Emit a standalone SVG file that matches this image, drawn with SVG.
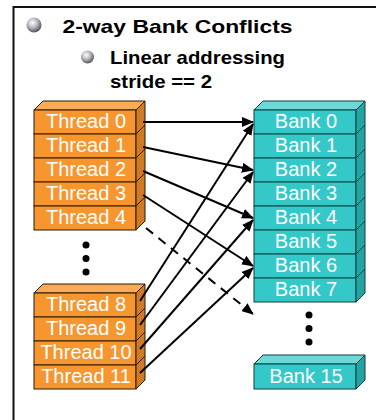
<svg xmlns="http://www.w3.org/2000/svg" width="376" height="420" viewBox="0 0 376 420">
<style>
.h{font-family:"Liberation Sans",Arial,sans-serif;font-weight:bold;fill:#000;font-size:19px}
.lb{font-family:"Liberation Sans",Arial,sans-serif;fill:#fff;font-size:20px;text-anchor:middle}
.of{fill:#F7962E;stroke:#2a1a08;stroke-width:1}
.ot{fill:#F9AC55;stroke:#2a1a08;stroke-width:1}
.os{fill:#D07A26;stroke:#2a1a08;stroke-width:1}
.tf{fill:#35C8C8;stroke:#133f3f;stroke-width:1}
.tt{fill:#6CD8D8;stroke:#133f3f;stroke-width:1}
.ts{fill:#24A3A3;stroke:#133f3f;stroke-width:1}
.ar{stroke:#000;stroke-width:2;fill:none;marker-end:url(#ah)}
.dot{fill:#000}
</style>
<defs>
<marker id="ah" viewBox="0 0 12 10" refX="11" refY="5" markerWidth="6" markerHeight="5" orient="auto" markerUnits="strokeWidth">
<path d="M0,0 L12,5 L0,10 Z" fill="#000"/>
</marker>
<radialGradient id="ball" cx="0.4" cy="0.35" r="0.65">
<stop offset="0" stop-color="#ffffff"/>
<stop offset="0.5" stop-color="#b8b8c0"/>
<stop offset="1" stop-color="#55555c"/>
</radialGradient>
</defs>
<rect width="376" height="420" fill="#fff"/>
<path d="M13.5,420 V7 H376" fill="none" stroke="#111" stroke-width="2"/>
<g id="title">
<circle cx="34" cy="25" r="7.5" fill="url(#ball)"/>
<text class="h" x="62.5" y="33" textLength="230" lengthAdjust="spacingAndGlyphs">2-way Bank Conflicts</text>
<circle cx="87.5" cy="57" r="6.5" fill="url(#ball)"/>
<text class="h" x="110" y="64" textLength="175" lengthAdjust="spacingAndGlyphs">Linear addressing</text>
<text class="h" x="110" y="88" textLength="102" lengthAdjust="spacingAndGlyphs">stride == 2</text>
</g>
<g id="threads-top">
<path class="ot" d="M34,110 L43,101 L145,101 L136,110 Z"/>
<g id="thread0"><rect class="of" x="34" y="110" width="102" height="24"/><path class="os" d="M136,110 L145,101 L145,125 L136,134 Z"/><text class="lb" x="86" y="128">Thread 0</text></g>
<g id="thread1"><rect class="of" x="34" y="134" width="102" height="24"/><path class="os" d="M136,134 L145,125 L145,149 L136,158 Z"/><text class="lb" x="86" y="152">Thread 1</text></g>
<g id="thread2"><rect class="of" x="34" y="158" width="102" height="24"/><path class="os" d="M136,158 L145,149 L145,173 L136,182 Z"/><text class="lb" x="86" y="176">Thread 2</text></g>
<g id="thread3"><rect class="of" x="34" y="182" width="102" height="24"/><path class="os" d="M136,182 L145,173 L145,197 L136,206 Z"/><text class="lb" x="86" y="200">Thread 3</text></g>
<g id="thread4"><rect class="of" x="34" y="206" width="102" height="24"/><path class="os" d="M136,206 L145,197 L145,221 L136,230 Z"/><text class="lb" x="86" y="224">Thread 4</text></g>
</g>
<g id="thread-dots"><circle class="dot" cx="86" cy="245" r="3.5"/><circle class="dot" cx="86" cy="258.5" r="3.5"/><circle class="dot" cx="86" cy="272" r="3.5"/></g>
<g id="threads-bottom">
<path class="ot" d="M34,293 L43,284 L145,284 L136,293 Z"/>
<g id="thread8"><rect class="of" x="34" y="293" width="102" height="24"/><path class="os" d="M136,293 L145,284 L145,308 L136,317 Z"/><text class="lb" x="86" y="311">Thread 8</text></g>
<g id="thread9"><rect class="of" x="34" y="317" width="102" height="24"/><path class="os" d="M136,317 L145,308 L145,332 L136,341 Z"/><text class="lb" x="86" y="335">Thread 9</text></g>
<g id="thread10"><rect class="of" x="34" y="341" width="102" height="24"/><path class="os" d="M136,341 L145,332 L145,356 L136,365 Z"/><text class="lb" x="86" y="359">Thread 10</text></g>
<g id="thread11"><rect class="of" x="34" y="365" width="102" height="24"/><path class="os" d="M136,365 L145,356 L145,380 L136,389 Z"/><text class="lb" x="86" y="383">Thread 11</text></g>
</g>
<g id="banks">
<path class="tt" d="M254,110 L263,101 L365,101 L356,110 Z"/>
<g id="bank0"><rect class="tf" x="254" y="110" width="102" height="24"/><path class="ts" d="M356,110 L365,101 L365,125 L356,134 Z"/><text class="lb" x="306" y="128">Bank 0</text></g>
<g id="bank1"><rect class="tf" x="254" y="134" width="102" height="24"/><path class="ts" d="M356,134 L365,125 L365,149 L356,158 Z"/><text class="lb" x="306" y="152">Bank 1</text></g>
<g id="bank2"><rect class="tf" x="254" y="158" width="102" height="24"/><path class="ts" d="M356,158 L365,149 L365,173 L356,182 Z"/><text class="lb" x="306" y="176">Bank 2</text></g>
<g id="bank3"><rect class="tf" x="254" y="182" width="102" height="24"/><path class="ts" d="M356,182 L365,173 L365,197 L356,206 Z"/><text class="lb" x="306" y="200">Bank 3</text></g>
<g id="bank4"><rect class="tf" x="254" y="206" width="102" height="24"/><path class="ts" d="M356,206 L365,197 L365,221 L356,230 Z"/><text class="lb" x="306" y="224">Bank 4</text></g>
<g id="bank5"><rect class="tf" x="254" y="230" width="102" height="24"/><path class="ts" d="M356,230 L365,221 L365,245 L356,254 Z"/><text class="lb" x="306" y="248">Bank 5</text></g>
<g id="bank6"><rect class="tf" x="254" y="254" width="102" height="24"/><path class="ts" d="M356,254 L365,245 L365,269 L356,278 Z"/><text class="lb" x="306" y="272">Bank 6</text></g>
<g id="bank7"><rect class="tf" x="254" y="278" width="102" height="24"/><path class="ts" d="M356,278 L365,269 L365,293 L356,302 Z"/><text class="lb" x="306" y="296">Bank 7</text></g>
</g>
<g id="bank-dots"><circle class="dot" cx="309" cy="315" r="3.5"/><circle class="dot" cx="309" cy="328.5" r="3.5"/><circle class="dot" cx="309" cy="342" r="3.5"/></g>
<g id="bank15">
<path class="tt" d="M254,364 L263,355 L365,355 L356,364 Z"/>
<rect class="tf" x="254" y="364" width="102" height="25"/><path class="ts" d="M356,364 L365,355 L365,380 L356,389 Z"/><text class="lb" x="306" y="383">Bank 15</text>
</g>
<g id="connectors">
<line class="ar" x1="143" y1="122" x2="253" y2="122"/>
<line class="ar" x1="143" y1="147" x2="253" y2="170"/>
<line class="ar" x1="143" y1="171" x2="253" y2="218"/>
<line class="ar" x1="143" y1="195" x2="253" y2="266"/>
<line class="ar" x1="146" y1="228" x2="253" y2="314" stroke-dasharray="9,7"/>
<line class="ar" x1="140" y1="301" x2="253" y2="124"/>
<line class="ar" x1="140" y1="325" x2="253" y2="172"/>
<line class="ar" x1="140" y1="349" x2="253" y2="220"/>
<line class="ar" x1="140" y1="373" x2="253" y2="268"/>
</g>
</svg>
